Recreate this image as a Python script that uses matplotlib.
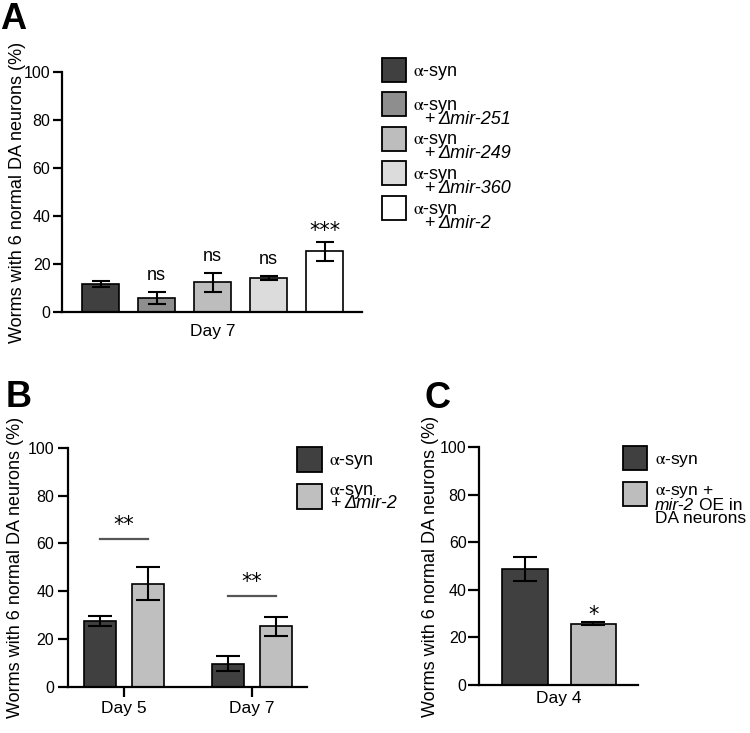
import matplotlib.pyplot as plt
from matplotlib.patches import Rectangle

plt.rcParams['font.family'] = ['Liberation Sans', 'DejaVu Sans']
plt.rcParams['mathtext.fontset'] = 'stix'

W, H = 750, 733
ALPHA = r'$\mathrm{\alpha}$-syn'

# panel A: day 7, five strains
a_means = [11.8, 5.9, 12.3, 14.2, 25.3]
a_err = [1.2, 2.5, 4.0, 1.0, 3.9]
a_sig = ['', 'ns', 'ns', 'ns', '***']
a_colors = ['#404040', '#8e8e8e', '#bdbdbd', '#dcdcdc', '#ffffff']
a_key = [
    [[(ALPHA, False)]],
    [[(ALPHA, False)], [('+', False), ('\u0394mir-251', True)]],
    [[(ALPHA, False)], [('+', False), ('\u0394mir-249', True)]],
    [[(ALPHA, False)], [('+', False), ('\u0394mir-360', True)]],
    [[(ALPHA, False)], [('+', False), ('\u0394mir-2', True)]],
]

# panel B: day 5 and day 7
b_days = ['Day 5', 'Day 7']
b_syn = [27.6, 9.8]
b_syn_err = [2.0, 3.3]
b_mir2 = [43.2, 25.4]
b_mir2_err = [6.8, 3.9]
b_sig = ['**', '**']
b_sig_y = [62, 38]
b_colors = ['#404040', '#bfbfbf']
b_key = [
    [[(ALPHA, False)]],
    [[(ALPHA, False)], [('+', False), ('\u0394mir-2', True)]],
]

# panel C: day 4, mir-2 overexpression
c_day = 'Day 4'
c_means = [48.7, 25.8]
c_err = [5.2, 0.7]
c_sig = ['', '*']
c_colors = ['#404040', '#bdbdbd']
c_key = [
    [[(ALPHA, False)]],
    [[(ALPHA + ' +', False)], [('mir-2', True), ('OE in', False)], [('DA neurons', False)]],
]

YLAB = 'Worms with 6 normal DA neurons (%)'
STAR = ['DejaVu Sans']

fig = plt.figure(figsize=(7.5, 7.33), dpi=100)


def px_axes(x0, y0, x1, y1):
    return fig.add_axes([x0 / W, 1 - y1 / H, (x1 - x0) / W, (y1 - y0) / H])


def setup(ax, ticklen, tickpad, labx):
    for s in ['top', 'right']:
        ax.spines[s].set_visible(False)
    for s in ['left', 'bottom']:
        ax.spines[s].set_linewidth(1.6)
    ax.set_ylim(0, 100)
    ax.set_yticks(range(0, 101, 20))
    ax.tick_params(axis='y', length=ticklen, width=1.6, pad=tickpad, labelsize=11.5)
    ax.set_ylabel(YLAB, fontsize=13)
    ax.yaxis.set_label_coords(labx, 0.5)


def put_line(ax, x, y, segs, size):
    prev = None
    prev_txt = ''
    for txt, it in segs:
        st = 'italic' if it else 'normal'
        if prev is None:
            prev = fig.text(x / W, 1 - y / H, txt, fontsize=size, style=st,
                            ha='left', va='baseline')
        else:
            gap = 2.8 if prev_txt == '+' else 3.5
            prev = ax.annotate(txt, xy=(1, 0), xycoords=prev, xytext=(gap, 0),
                               textcoords='offset points', fontsize=size, style=st,
                               ha='left', va='bottom', annotation_clip=False)
        prev_txt = txt


def draw_key(ax, entries, colors, sq_x, sq_tops, sq, text_x, offsets, size=13):
    for entry, col, top in zip(entries, colors, sq_tops):
        fig.add_artist(Rectangle((sq_x / W, 1 - (top + sq) / H), sq / W, sq / H,
                                 transform=fig.transFigure, facecolor=col,
                                 edgecolor='black', linewidth=1.3))
        offs = [18] if len(entry) == 1 else offsets
        for i, (line, dy) in enumerate(zip(entry, offs)):
            put_line(ax, text_x[min(i, len(text_x) - 1)], top + dy, line, size)


# ---------- A ----------
axA = px_axes(62, 72, 362, 312)
xa = list(range(len(a_means)))
axA.bar(xa, a_means, width=0.66, color=a_colors, edgecolor='black', linewidth=1.2)
axA.errorbar(xa, a_means, yerr=a_err, fmt='none', ecolor='black',
             elinewidth=1.5, capsize=6.5, capthick=1.5)
axA.set_xlim(-0.69, 4.67)
axA.set_xticks([2])
axA.set_xticklabels(['Day 7'], fontsize=12.5)
axA.tick_params(axis='x', length=0, pad=8.5)
setup(axA, 6.3, 2, -0.12)
for i, lab in enumerate(a_sig):
    if not lab:
        continue
    top = a_means[i] + a_err[i]
    if '*' in lab:
        axA.annotate(lab, (i, top), xytext=(0, 3.4), textcoords='offset points',
                     ha='center', va='baseline', fontsize=15, family=STAR)
    else:
        axA.annotate(lab, (i, top), xytext=(0, 8.5), textcoords='offset points',
                     ha='center', va='baseline', fontsize=13)
draw_key(axA, a_key, a_colors, 382, [57.7, 92, 126.5, 161, 196], 24,
         [413, 424], [18, 32])

# ---------- B ----------
axB = px_axes(68, 447.7, 307, 687)
xb = list(range(len(b_days)))
off_b = 0.1875
axB.bar([x - off_b for x in xb], b_syn, width=0.245, color=b_colors[0],
        edgecolor='black', linewidth=1.2)
axB.bar([x + off_b for x in xb], b_mir2, width=0.245, color=b_colors[1],
        edgecolor='black', linewidth=1.2)
axB.errorbar([x - off_b for x in xb], b_syn, yerr=b_syn_err, fmt='none',
             ecolor='black', elinewidth=1.5, capsize=8.5, capthick=1.5)
axB.errorbar([x + off_b for x in xb], b_mir2, yerr=b_mir2_err, fmt='none',
             ecolor='black', elinewidth=1.5, capsize=8.5, capthick=1.5)
for x, y, lab in zip(xb, b_sig_y, b_sig):
    axB.plot([x - off_b, x + off_b], [y, y], color='#555555', lw=1.6)
    axB.annotate(lab, (x, y), xytext=(0, 5.5), textcoords='offset points',
                 ha='center', va='baseline', fontsize=15, family=STAR)
axB.set_xlim(-0.4375, 1.43)
axB.set_xticks(xb)
axB.set_xticklabels(b_days, fontsize=12.5)
axB.tick_params(axis='x', length=7, width=1.6, pad=3)
setup(axB, 7, 3, -0.184)
draw_key(axB, b_key, b_colors, 297, [447, 484], 24.5, [329, 330], [11, 23.5])

# ---------- C ----------
axC = px_axes(479, 447, 638, 685)
xc = list(range(len(c_means)))
axC.bar(xc, c_means, width=0.66, color=c_colors, edgecolor='black', linewidth=1.2)
axC.errorbar(xc, c_means, yerr=c_err, fmt='none', ecolor='black',
             elinewidth=1.5, capsize=8.5, capthick=1.5)
for i, lab in enumerate(c_sig):
    if lab:
        axC.annotate(lab, (i, c_means[i] + c_err[i]), xytext=(0, 0.5),
                     textcoords='offset points', ha='center', va='baseline',
                     fontsize=15, family=STAR)
axC.set_xlim(-0.67, 1.65)
axC.set_xticks([0.5])
axC.set_xticklabels([c_day], fontsize=12.5)
axC.tick_params(axis='x', length=0, pad=4.5)
setup(axC, 8, 1, -0.25)
draw_key(axC, c_key, c_colors, 622.7, [445.7, 481.7], 24.3, [655], [13, 28, 41.5],
         size=12.5)

# panel letters
fig.text(0 / W, 1 - 29 / H, 'A', fontsize=26, fontweight='bold', va='baseline')
fig.text(6 / W, 1 - 407 / H, 'B', fontsize=26, fontweight='bold', va='baseline')
fig.text(424 / W, 1 - 408 / H, 'C', fontsize=26, fontweight='bold', va='baseline')

fig.savefig('out.png', dpi=100)
